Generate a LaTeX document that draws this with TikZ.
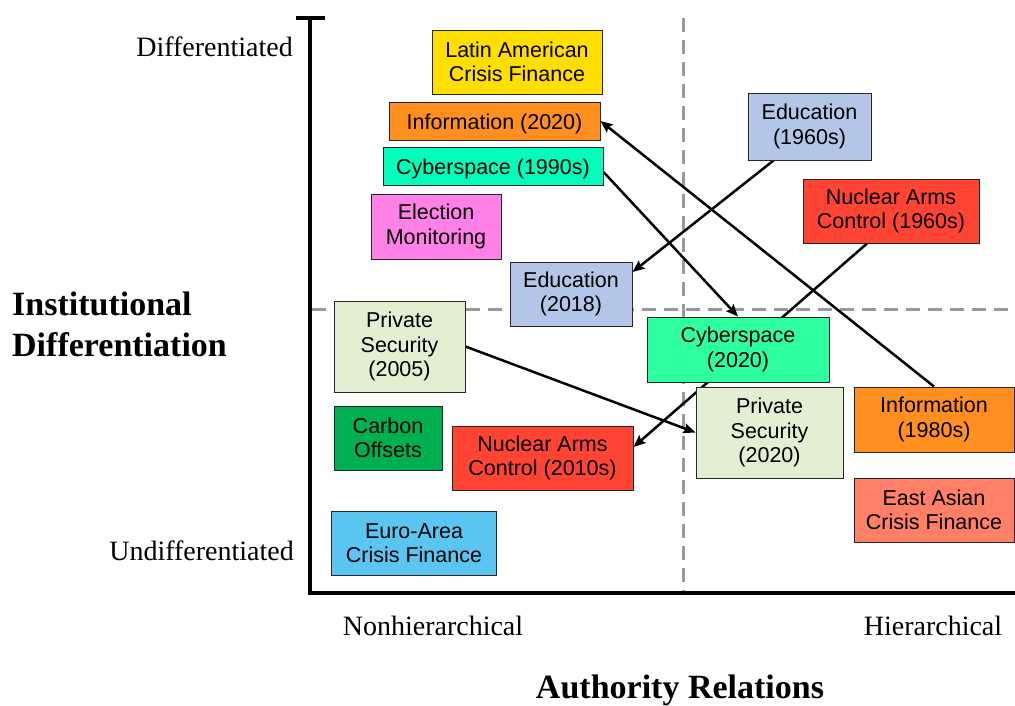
\documentclass[tikz,border=0pt]{standalone}
\usepackage{fontspec}
\setmainfont{Liberation Serif}
\newfontfamily\boxfont{Liberation Sans}
\usetikzlibrary{arrows.meta,calc}
\pgfdeclarelayer{bg}
\pgfdeclarelayer{arr}
\pgfsetlayers{bg,arr,main}
\definecolor{cYellow}{HTML}{FFDE00}
\definecolor{cOrange}{HTML}{FF8F1F}
\definecolor{cCyan}{HTML}{00FFBB}
\definecolor{cCyanB}{HTML}{2EFF9E}
\definecolor{cPink}{HTML}{FF80E6}
\definecolor{cBlue}{HTML}{B4C6E7}
\definecolor{cRed}{HTML}{FF4433}
\definecolor{cPale}{HTML}{E2EFD2}
\definecolor{cGreen}{HTML}{00B050}
\definecolor{cSalmon}{HTML}{FF8066}
\definecolor{cSky}{HTML}{5BC5F2}
\tikzset{
  cbox/.style={draw=black!85, line width=1pt, fill=#1, inner sep=0pt, align=center,
    font=\boxfont\fontsize{21.5}{24.5}\selectfont,
    execute at begin node={\rule{0pt}{21.5pt}}},
  axisline/.style={line width=4pt, black},
  dashline/.style={line width=3pt, gray!80, dash pattern=on 14pt off 8pt},
  mover/.style={line width=2.5pt, black, -{Stealth[length=12pt,width=10pt,inset=2pt]}},
  axlab/.style={font=\fontsize{28}{32}\selectfont, inner sep=0pt},
  titlab/.style={font=\bfseries\fontsize{34}{41}\selectfont, inner sep=0pt, align=left}
}
\begin{document}
\begin{tikzpicture}[x=1pt,y=-1pt]
\useasboundingbox (0,0) rectangle (1015,705);
% boxes
\node[cbox=cYellow, minimum width=170, minimum height=64] (latam) at (517,62) {Latin American\\Crisis Finance};
\node[cbox=cOrange, minimum width=211, minimum height=38] (inf20) at (494.5,121) {Information (2020)};
\node[cbox=cCyan, minimum width=220, minimum height=38] (cyb90) at (493,166) {Cyberspace (1990s)};
\node[cbox=cPink, minimum width=130, minimum height=65] (elec) at (436,226.5) {Election\\Monitoring};
\node[cbox=cBlue, minimum width=122, minimum height=64] (edu18) at (571,294) {Education\\(2018)};
\node[cbox=cPale, minimum width=131, minimum height=91] (ps05) at (399.5,346.5) {Private\\Security\\(2005)};
\node[cbox=cGreen, minimum width=108, minimum height=64] (carbon) at (388,438) {Carbon\\Offsets};
\node[cbox=cRed, minimum width=181, minimum height=64] (nac10) at (542.5,458) {Nuclear Arms\\Control (2010s)};
\node[cbox=cSky, minimum width=165, minimum height=64] (euro) at (414,543) {Euro-Area\\Crisis Finance};
\node[cbox=cBlue, minimum width=123, minimum height=67] (edu60) at (809.5,126.5) {Education\\(1960s)};
\node[cbox=cRed, minimum width=176, minimum height=64] (nac60) at (891,211) {Nuclear Arms\\Control (1960s)};
\node[cbox=cCyanB, minimum width=182, minimum height=65] (cyb20) at (738,349.5) {Cyberspace\\(2020)};
\node[cbox=cPale, minimum width=147, minimum height=91] (ps20) at (769.5,432.5) {Private\\Security\\(2020)};
\node[cbox=cOrange, minimum width=160, minimum height=65] (inf80) at (934,419.5) {Information\\(1980s)};
\node[cbox=cSalmon, minimum width=160, minimum height=64] (eastasia) at (934,510) {East Asian\\Crisis Finance};
% axes
\coordinate (ytop) at (310,18);
\coordinate (orig) at (310,593);
\coordinate (xend) at (1015,593);
\coordinate (tickl) at (296,18);
\coordinate (tickr) at (325,18);
\coordinate (hd1) at (312,309);
\coordinate (hd2) at (1015,309);
\coordinate (vd1) at (683,18);
\coordinate (vd2) at (683,591);
\begin{pgfonlayer}{bg}
\draw[dashline] (hd1) -- (hd2);
\draw[dashline] (vd1) -- (vd2);
\draw[axisline] (tickl) -- (tickr);
\draw[axisline, line cap=rect] (ytop) -- (orig) -- (xend);
\end{pgfonlayer}
% movement arrows
\begin{pgfonlayer}{arr}
\draw[mover] (inf80.north) -- (inf20.east);
\draw[mover] ([xshift=-36pt]edu60.south) -- ([yshift=22pt]edu18.east);
\draw[mover] ([yshift=-6pt]cyb90.east) -- (cyb20.north);
\draw[mover] ([xshift=-24pt]nac60.south) -- ([yshift=11pt]nac10.east);
\draw[mover] (ps05.east) -- (ps20.west);
\end{pgfonlayer}
% labels
\node[axlab, anchor=east] (ldiff) at (293,47) {Differentiated};
\node[axlab, anchor=east] (lundiff) at (294,551) {Undifferentiated};
\node[axlab] (lnonh) at (433,626) {Nonhierarchical};
\node[axlab] (lhier) at (933,626) {Hierarchical};
\node[titlab, anchor=west] (ltitle) at (12,324) {Institutional\\Differentiation};
\node[titlab] (lauth) at (680,690) {Authority Relations};
\end{tikzpicture}
\end{document}
